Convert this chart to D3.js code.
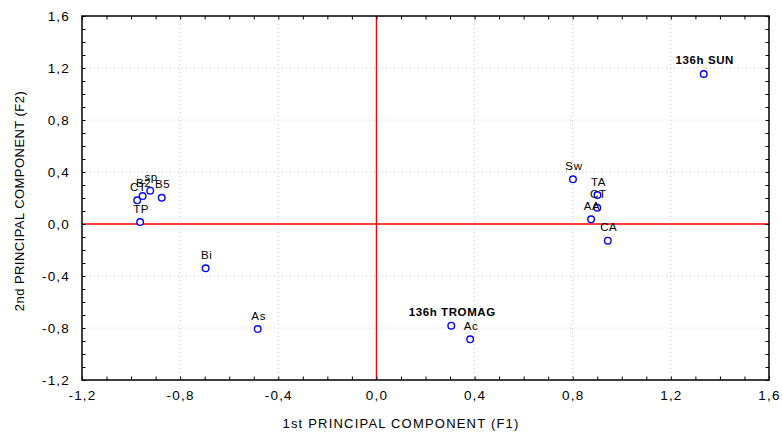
<!DOCTYPE html>
<html>
<head>
<meta charset="utf-8">
<script src="https://cdn.jsdelivr.net/npm/d3@7"></script>
<style>
  body { margin: 0; background: #fff; }
  svg { font-family: "Liberation Sans", Arial, sans-serif; }
</style>
</head>
<body>
<div id="chart"></div>
<script>
// point labels and coordinates
const labels = ['TP', 'CT', 'B2', 'sp', 'B5', 'Bi', 'As', '136h TROMAG', 'Ac', 'Sw', 'TA', 'CT', 'AA', 'CA', '136h SUN'];
const f1 = [-0.963, -0.975, -0.953, -0.922, -0.875, -0.696, -0.484, 0.305, 0.382, 0.801, 0.901, 0.900, 0.875, 0.943, 1.334];
const f2 = [0.015, 0.182, 0.215, 0.256, 0.202, -0.341, -0.808, -0.782, -0.887, 0.344, 0.223, 0.125, 0.036, -0.128, 1.154];
const boldLabels = ['136h TROMAG', '136h SUN'];
const majorTicks = [-1.2, -0.8, -0.4, 0, 0.4, 0.8, 1.2, 1.6];

const width = 782, height = 433;
const margin = { top: 16, right: 13, bottom: 53, left: 82 };

const points = labels.map((l, i) => ({ label: l, x: f1[i], y: f2[i] }));

const svg = d3.select('#chart').append('svg')
  .attr('width', width)
  .attr('height', height);

const x = d3.scaleLinear().domain([-1.2, 1.6]).range([margin.left, width - margin.right]);
const y = d3.scaleLinear().domain([-1.2, 1.6]).range([height - margin.bottom, margin.top]);

const fmt = d => d3.format('.1f')(d).replace('.', ',').replace('−', '-');
const minorTicks = d3.range(-12, 17).map(d => d / 10);

// dotted grid at major ticks
svg.append('g').selectAll('line')
  .data(majorTicks.slice(1, -1))
  .enter().append('line')
    .attr('x1', d => x(d)).attr('x2', d => x(d))
    .attr('y1', y(1.6)).attr('y2', y(-1.2))
    .attr('stroke', '#c8c8c8').attr('stroke-dasharray', '1,3');
svg.append('g').selectAll('line')
  .data(majorTicks.slice(1, -1))
  .enter().append('line')
    .attr('y1', d => y(d)).attr('y2', d => y(d))
    .attr('x1', x(-1.2)).attr('x2', x(1.6))
    .attr('stroke', '#c8c8c8').attr('stroke-dasharray', '1,3');

// red zero lines
svg.append('line')
  .attr('x1', x(0)).attr('x2', x(0)).attr('y1', y(1.6)).attr('y2', y(-1.2))
  .attr('stroke', '#ff0000').attr('stroke-width', 1.3);
svg.append('line')
  .attr('y1', y(0)).attr('y2', y(0)).attr('x1', x(-1.2)).attr('x2', x(1.6))
  .attr('stroke', '#ff0000').attr('stroke-width', 1.3);

// inward ticks on all four sides
const sides = [
  [d3.axisBottom(x), `translate(0,${y(-1.2)})`],
  [d3.axisTop(x), `translate(0,${y(1.6)})`],
  [d3.axisLeft(y), `translate(${x(-1.2)},0)`],
  [d3.axisRight(y), `translate(${x(1.6)},0)`]
];
sides.forEach(([axis, t]) => {
  svg.append('g')
    .attr('transform', t)
    .call(axis.tickValues(minorTicks).tickSize(-3.5).tickFormat(''))
    .call(g => g.select('.domain').remove());
});

// tick labels
svg.append('g')
  .attr('transform', `translate(0,${y(-1.2)})`)
  .call(d3.axisBottom(x).tickValues(majorTicks).tickFormat(fmt).tickSize(0).tickPadding(10.5))
  .call(g => g.select('.domain').remove())
  .selectAll('text')
    .style('font-size', '13.5px').style('letter-spacing', '1.2px')
    .attr('fill', '#000');
svg.append('g')
  .attr('transform', `translate(${x(-1.2)},0)`)
  .call(d3.axisLeft(y).tickValues(majorTicks).tickFormat(fmt).tickSize(0).tickPadding(12))
  .call(g => g.select('.domain').remove())
  .selectAll('text')
    .style('font-size', '13.5px').style('letter-spacing', '1.2px')
    .attr('fill', '#000');

// frame
svg.append('rect')
  .attr('x', x(-1.2)).attr('y', y(1.6))
  .attr('width', x(1.6) - x(-1.2)).attr('height', y(-1.2) - y(1.6))
  .attr('fill', 'none').attr('stroke', '#000').attr('stroke-width', 1.5);

// points
svg.append('g').selectAll('circle')
  .data(points)
  .enter().append('circle')
    .attr('cx', d => x(d.x))
    .attr('cy', d => y(d.y))
    .attr('r', 3.3)
    .attr('fill', '#fff')
    .attr('stroke', '#0000ff')
    .attr('stroke-width', 1.4);

// point labels
svg.append('g').selectAll('text')
  .data(points)
  .enter().append('text')
    .attr('x', d => x(d.x) + 1)
    .attr('y', d => y(d.y) - 9.5)
    .attr('text-anchor', 'middle')
    .style('font-size', '11.5px')
    .style('letter-spacing', '0.6px')
    .style('font-weight', d => boldLabels.includes(d.label) ? 'bold' : 'normal')
    .text(d => d.label);

// axis titles
svg.append('text')
  .attr('x', 401)
  .attr('y', 428)
  .attr('text-anchor', 'middle')
  .style('font-size', '13px')
  .style('letter-spacing', '1.2px')
  .text('1st PRINCIPAL COMPONENT (F1)');
svg.append('text')
  .attr('transform', 'translate(24,201) rotate(-90)')
  .attr('text-anchor', 'middle')
  .style('font-size', '13px')
  .style('letter-spacing', '0.45px')
  .text('2nd PRINCIPAL COMPONENT (F2)');
</script>
</body>
</html>
